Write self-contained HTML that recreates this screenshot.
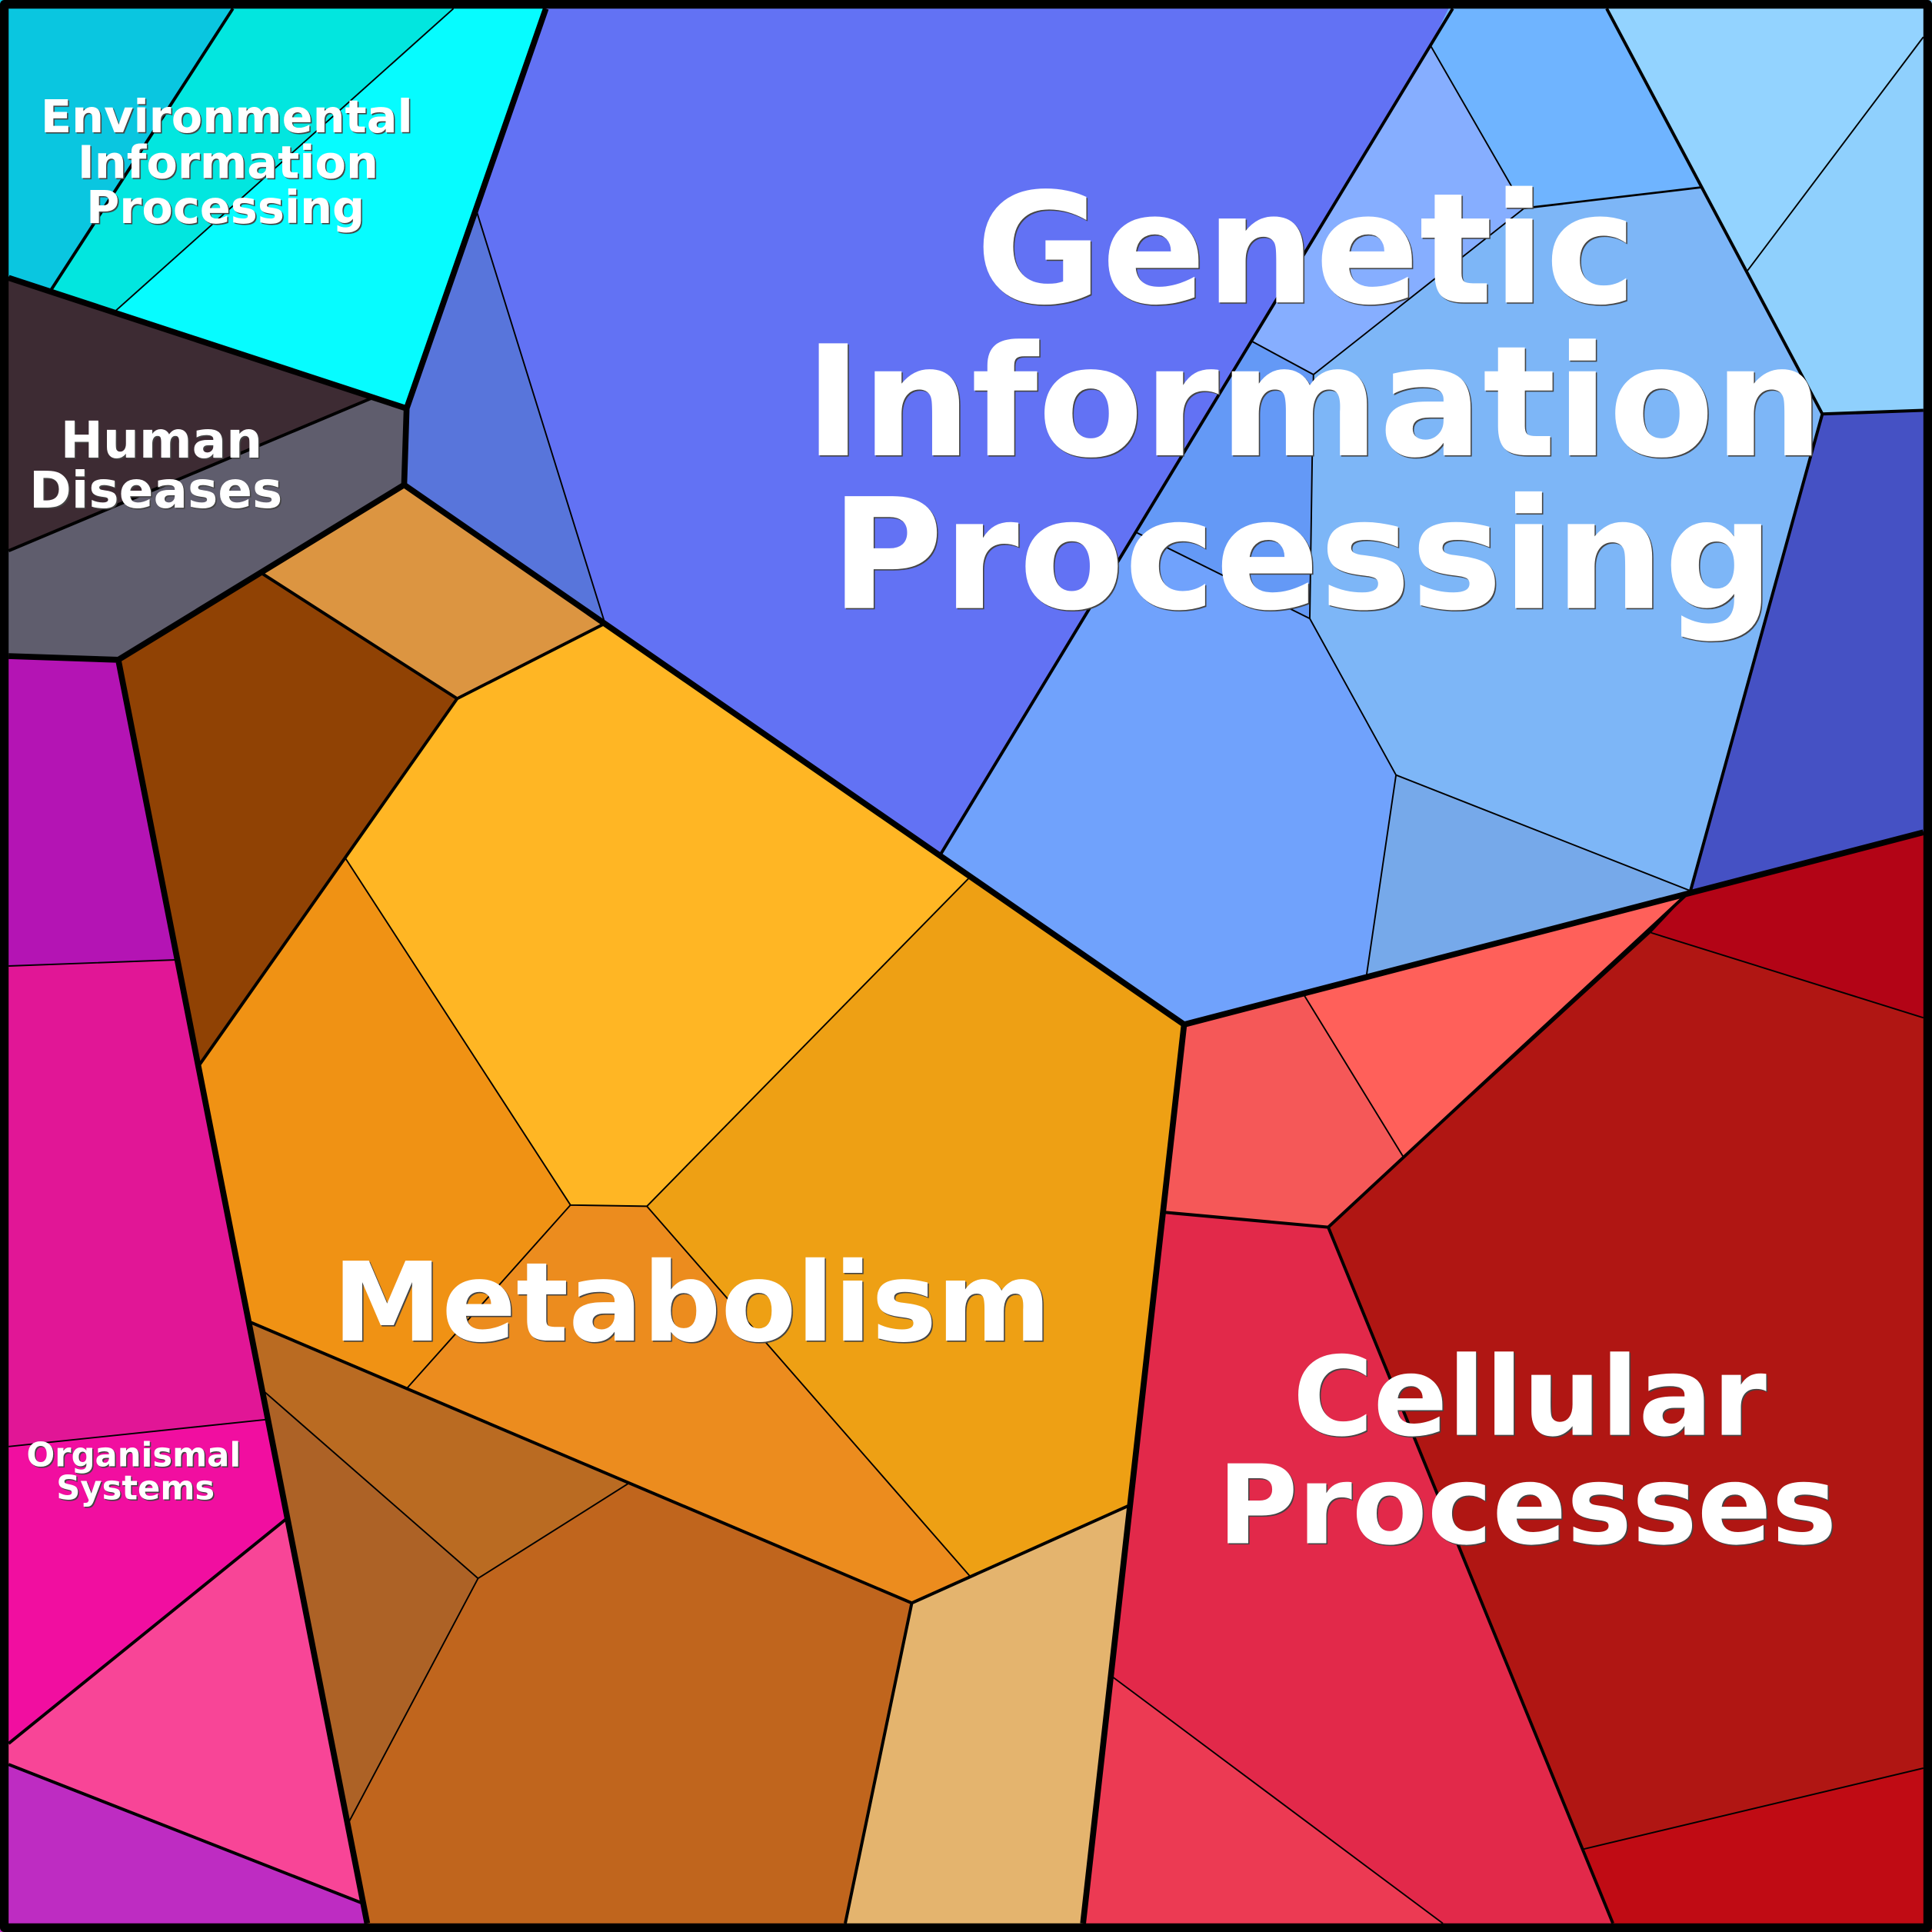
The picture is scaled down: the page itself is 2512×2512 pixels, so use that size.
<!DOCTYPE html>
<html><head><meta charset="utf-8"><style>
html,body{margin:0;padding:0;background:#000}
svg{display:block}
text{font-family:"DejaVu Sans","Liberation Sans",sans-serif;font-weight:bold;fill:#fff;text-anchor:middle}
.big{filter:drop-shadow(1px 1px 0 #444)}
.small{filter:drop-shadow(1px 1px 0 #444)}
</style></head><body>
<svg xmlns="http://www.w3.org/2000/svg" width="2512" height="2512" viewBox="0 0 1568 1568">
<g stroke="none">
<polygon fill="#0ac6e0" points="0,0 189,0 189,7 41,236 0,222"/>
<polygon fill="#02e6df" points="189,7 189,0 368,0 368,7 93,253 41,236"/>
<polygon fill="#06fcff" points="368,7 368,0 445,0 443,7 330,331 93,253"/>
<polygon fill="#3d2b33" points="0,223 302,323 0,449"/>
<polygon fill="#5f5d6d" points="0,449 302,323 330,331 328,393 96,535 0,532"/>
<polygon fill="#5875db" points="387,172 491,506 328,393 330,331"/>
<polygon fill="#6272f4" points="443,0 1183,0 763,694 491,506 387,172"/>
<polygon fill="#86aeff" points="1161,37 1237,169 1066,304 1016,277"/>
<polygon fill="#6fb4ff" points="1179,0 1300,0 1304,7 1381,152 1237,169 1161,37"/>
<polygon fill="#7db6f7" points="1237,169 1381,152 1479,336 1372,723 1133,629 1063,502 1066,304"/>
<polygon fill="#6499f6" points="1016,277 1066,304 1063,502 922,432"/>
<polygon fill="#70a2fc" points="922,432 1063,502 1133,629 1109,792 961,831 787,712 763,694"/>
<polygon fill="#76a9ea" points="1133,629 1372,723 1109,792"/>
<polygon fill="#93d3ff" points="1300,0 1568,0 1568,22 1418,220 1304,7"/>
<polygon fill="#8fd0fd" points="1568,22 1568,333 1479,336 1418,220"/>
<polygon fill="#4551c4" points="1479,336 1568,333 1568,673 1372,723"/>
<polygon fill="#dc9541" points="328,393 491,506 371,567 212,465"/>
<polygon fill="#904204" points="212,465 371,567 162,864 96,535"/>
<polygon fill="#ffb624" points="371,567 491,506 787,712 525,979 463,978 280,696"/>
<polygon fill="#f09214" points="280,696 463,978 330,1127 203,1073 162,864"/>
<polygon fill="#ec8c1e" points="463,978 525,979 787,1279 740,1301 330,1127"/>
<polygon fill="#eea014" points="787,712 961,831 916,1222 787,1279 525,979"/>
<polygon fill="#ba6b22" points="203,1073 510,1204 388,1281 214,1129"/>
<polygon fill="#ad6226" points="214,1129 388,1281 283,1479"/>
<polygon fill="#c0651d" points="388,1281 510,1204 740,1301 686,1568 299,1568 283,1479"/>
<polygon fill="#e4b46e" points="740,1301 916,1222 878,1568 685,1568"/>
<polygon fill="#f55858" points="961,831 1058,807 1139,939 1078,996 946,984"/>
<polygon fill="#ff605a" points="1058,807 1372,723 1139,939"/>
<polygon fill="#b30416" points="1372,723 1568,673 1568,828 1340,757"/>
<polygon fill="#b01613" points="1340,757 1568,828 1568,1434 1284,1501 1078,996"/>
<polygon fill="#c00b14" points="1284,1501 1568,1434 1568,1568 1312,1568"/>
<polygon fill="#e2294a" points="946,984 1078,996 1312,1568 1171,1561 903,1361"/>
<polygon fill="#ec3a53" points="903,1361 1171,1561 1180,1568 878,1568"/>
<polygon fill="#b414b4" points="0,532 96,535 143,779 0,784"/>
<polygon fill="#e11696" points="0,784 143,779 217,1152 0,1175"/>
<polygon fill="#f10ea0" points="0,1175 217,1152 232,1233 0,1420"/>
<polygon fill="#f84597" points="0,1420 232,1233 295,1545 0,1430"/>
<polygon fill="#be2cc2" points="0,1430 295,1545 300,1568 0,1568"/>
</g>
<g fill="none" stroke="#000" stroke-linejoin="round" stroke-linecap="butt">
<g stroke-width="1.2">
<path d="M368,7L93,253M387,172L491,506M1161,37L1237,169L1066,304L1016,277M1066,304L1063,502L922,432M1063,502L1133,629L1372,723M1133,629L1109,792M1418,220L1561,30M787,712L525,979L463,978L280,696M463,978L330,1127M525,979L787,1279M214,1129L388,1281L510,1204M388,1281L283,1479M1058,807L1139,939M1340,757L1561,826M903,1361L1171,1561M1284,1501L1561,1435M7,1174L217,1152M7,784L143,779"/>
</g>
<g stroke-width="1.7">
<path d="M1237,169L1381,152"/>
</g>
<g stroke-width="2.5">
<path d="M189,7L41,236M7,447L302,323M1179,7L763,694M1304,7L1479,336L1372,723M1479,336L1561,333M491,506L371,567L212,465M371,567L162,864M203,1073L740,1301L686,1561M740,1301L916,1222M1372,723L1078,996L1309,1561M1078,996L946,984M7,1415L232,1233M7,1432L295,1545"/>
</g>
<g stroke-width="4.8">
<path d="M443,7L330,331.5L7,225.5M330,331.5L328,393.5L96,535.5L7,532.5M328,393.5L961,831.5L1561,675.5M961,831.5L879,1561M96,535.5L298,1561"/>
</g>
<rect x="3.5" y="3.5" width="1561" height="1561" stroke-width="7"/>
</g>
<g class="big">
<text font-size="124.6" x="1060" y="245.5">Genetic</text>
<text font-size="124.6" x="1066.5" y="369.5">Information</text>
<text font-size="124.6" x="1057" y="493.5">Processing</text>
<text font-size="89" x="561.5" y="1088">Metabolism</text>
<text font-size="89" x="1241.5" y="1164.5">Cellular</text>
<text font-size="89" x="1239.5" y="1252.5">Processes</text>
</g>
<g class="small">
<text font-size="36.8" x="184" y="107.5">Environmental</text>
<text font-size="36.8" x="185" y="144.5">Information</text>
<text font-size="36.8" x="183" y="181">Processing</text>
<text font-size="41.2" x="131" y="371.5">Human</text>
<text font-size="41.2" x="126.5" y="412">Diseases</text>
<text font-size="27" x="108.5" y="1190">Organismal</text>
<text font-size="27" x="110" y="1217">Systems</text>
</g>
</svg>
</body></html>
